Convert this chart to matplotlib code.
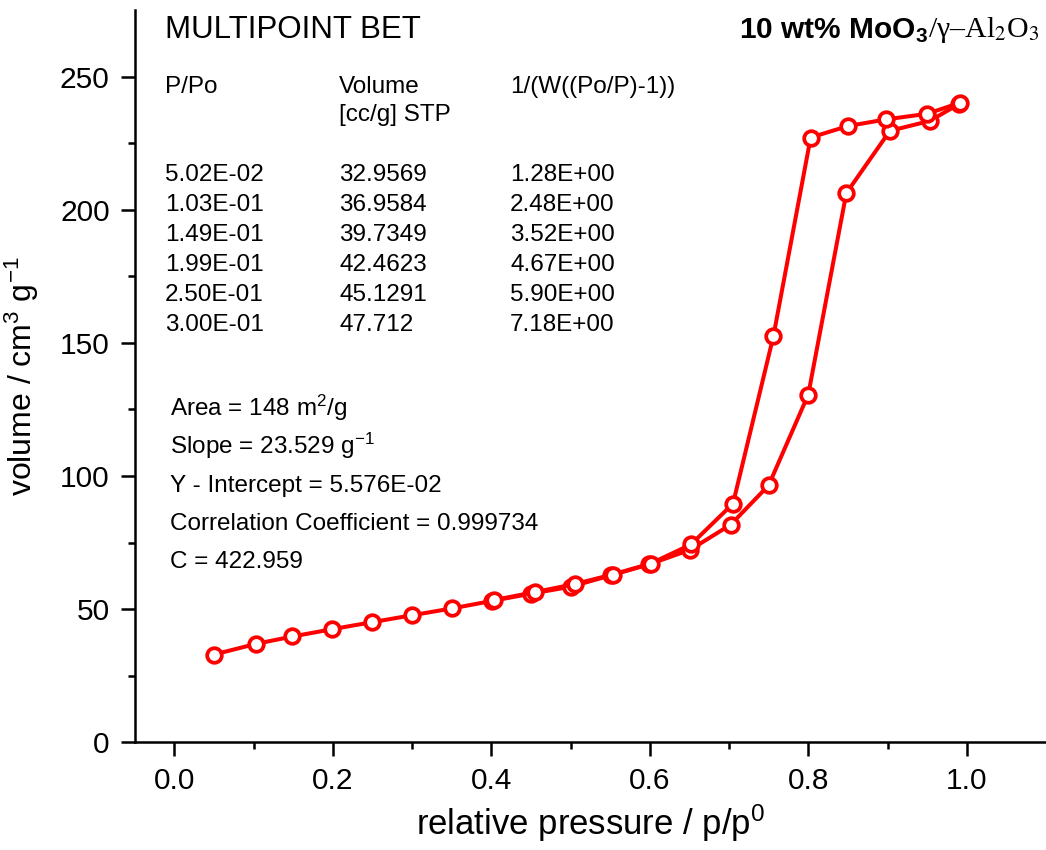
import matplotlib
matplotlib.use("Agg")
import matplotlib.pyplot as plt
from matplotlib.ticker import FixedLocator, FormatStrFormatter

plt.rcParams["font.family"] = ["Liberation Sans", "DejaVu Sans"]
plt.rcParams["mathtext.fontset"] = "custom"
plt.rcParams["mathtext.rm"] = "Liberation Sans"
plt.rcParams["mathtext.it"] = "Liberation Sans:italic"
plt.rcParams["mathtext.bf"] = "Liberation Sans:bold"

# adsorption branch
ads_p = [0.0502, 0.103, 0.149, 0.199, 0.250, 0.300, 0.351, 0.401, 0.450, 0.500,
         0.551, 0.599, 0.651, 0.702, 0.750, 0.800, 0.848, 0.903, 0.953, 0.990]
ads_v = [32.96, 36.96, 39.73, 42.46, 45.13, 47.71, 50.3, 53.1, 55.8, 58.4,
         62.7, 66.8, 72.3, 81.7, 96.5, 130.6, 206.2, 229.6, 233.3, 239.6]

# desorption branch
des_p = [0.991, 0.950, 0.898, 0.850, 0.803, 0.756, 0.705, 0.652, 0.601, 0.553,
         0.505, 0.455, 0.403]
des_v = [240.1, 236.0, 233.9, 231.4, 227.1, 152.5, 89.6, 74.3, 67.1, 63.0,
         59.4, 56.4, 53.4]

# BET table
tbl_header = ["P/Po", "Volume", "1/(W((Po/P)-1))"]
tbl_header2 = ["", "[cc/g] STP", ""]
tbl_p = ["5.02E-02", "1.03E-01", "1.49E-01", "1.99E-01", "2.50E-01", "3.00E-01"]
tbl_vol = ["32.9569", "36.9584", "39.7349", "42.4623", "45.1291", "47.712"]
tbl_inv = ["1.28E+00", "2.48E+00", "3.52E+00", "4.67E+00", "5.90E+00", "7.18E+00"]

bet_lines = [
    r"Area = 148 m$^{\mathrm{2}}$/g",
    r"Slope = 23.529 g$^{\mathrm{-1}}$",
    "Y - Intercept = 5.576E-02",
    "Correlation Coefficient = 0.999734",
    "C = 422.959",
]

red = "#ff0000"

fig = plt.figure(figsize=(10.46, 8.5), dpi=100)
ax = fig.add_axes([0.1288, 0.1267, 0.8712, 0.8616])

line_kw = dict(color=red, lw=2.9, marker="o", ms=10.5, mfc="white", mec=red, mew=2.7)
ax.plot(ads_p, ads_v, **line_kw)
ax.plot(des_p, des_v, **line_kw)

ax.set_xlim(-0.05, 1.1)
ax.set_ylim(0, 275)
ax.xaxis.set_major_locator(FixedLocator([0.0, 0.2, 0.4, 0.6, 0.8, 1.0]))
ax.xaxis.set_minor_locator(FixedLocator([0.1, 0.3, 0.5, 0.7, 0.9]))
ax.yaxis.set_major_locator(FixedLocator([0, 50, 100, 150, 200, 250]))
ax.yaxis.set_minor_locator(FixedLocator([25, 75, 125, 175, 225]))
ax.xaxis.set_major_formatter(FormatStrFormatter("%.1f"))

for side in ["top", "right"]:
    ax.spines[side].set_visible(False)
for side in ["left", "bottom"]:
    ax.spines[side].set_linewidth(1.8)
ax.tick_params(which="major", direction="out", length=10, width=1.8,
               labelsize=21.5, pad=8)
ax.tick_params(which="minor", direction="out", length=5, width=1.8)

ax.set_xlabel(r"relative pressure / p/p$^{\mathrm{0}}$", fontsize=25, labelpad=5)
ax.set_ylabel(r"volume / cm$^{\mathrm{3}}$ g$^{\mathrm{-1}}$", fontsize=23, labelpad=14)

tr = ax.transAxes
ax.text(0.0333, 0.9618, "MULTIPOINT BET", fontsize=22.5, transform=tr, va="baseline")

col_x = [0.0333, 0.2242, 0.412]
for cx, head, head2 in zip(col_x, tbl_header, tbl_header2):
    ax.text(cx, 0.886, head, fontsize=17.5, transform=tr, va="baseline")
    ax.text(cx, 0.8477, head2, fontsize=17.5, transform=tr, va="baseline")

row0 = 0.7658
step = 0.04097
for i in range(len(tbl_p)):
    y = row0 - i * step
    ax.text(col_x[0], y, tbl_p[i], fontsize=17.5, transform=tr, va="baseline")
    ax.text(col_x[1], y, tbl_vol[i], fontsize=17.5, transform=tr, va="baseline")
    ax.text(col_x[2], y, tbl_inv[i], fontsize=17.5, transform=tr, va="baseline")

for i, s in enumerate(bet_lines):
    ax.text(0.0387, 0.4463 - i * 0.0522, s, fontsize=17.5, transform=tr, va="baseline")

# sample title: bold sans part + serif part
t2 = ax.text(0.9934, 0.9624, "/γ–Al$_{2}$O$_{3}$", fontsize=21.5,
             family="Liberation Serif", math_fontfamily="stix",
             transform=tr, ha="right", va="baseline")
ax.annotate(r"10 wt% MoO$_{\mathbf{3}}$", xy=(0, 0), xycoords=t2,
            fontsize=21.5, weight="bold", ha="right", va="bottom")

fig.savefig("out.png", dpi=100)
